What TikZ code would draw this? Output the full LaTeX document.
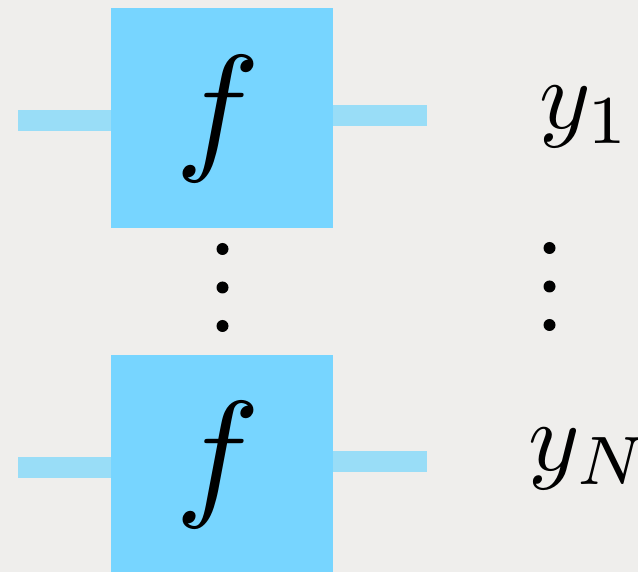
\documentclass[tikz,border=0pt]{standalone}
\usepackage{graphicx}
\usetikzlibrary{calc}
\definecolor{bgc}{HTML}{EFEEEC}
\definecolor{boxc}{HTML}{77D5FF}
\definecolor{wirec}{HTML}{99DDF7}
\tikzset{
  fbox/.style={fill=boxc, draw=none, inner sep=0pt, minimum width=222pt},
  wire/.style={draw=wirec, line width=21pt},
  flabel/.style={inner sep=0pt, anchor=base},
  ylabel/.style={inner sep=0pt, anchor=base west},
  dotc/.style={fill=black, circle, inner sep=0pt, minimum size=12pt}
}
\begin{document}
\begin{tikzpicture}[x=1pt,y=-1pt]
\fill[bgc] (0,0) rectangle (638,572);
\useasboundingbox (0,0) rectangle (638,572);
% boxes
\node[fbox, minimum height=220pt, anchor=north west] (b1) at (111,8) {};
\node[fbox, minimum height=217pt, anchor=north west] (b2) at (111,355) {};
% wires
\coordinate (l1) at (18,120.5);
\coordinate (r1) at (427,115.5);
\coordinate (l2) at (18,467);
\coordinate (r2) at (427,461.7);
\draw[wire] (l1) -- (l1 -| b1.west);
\draw[wire] (b1.east |- r1) -- (r1);
\draw[wire] (l2) -- (l2 -| b2.west);
\draw[wire] (b2.east |- r2) -- (r2);
% labels
\node[flabel] (f1) at (218,154.5) {\scalebox{14.2}{$f$}};
\node[flabel] (f2) at (218,500.5) {\scalebox{14.2}{$f$}};
\node[ylabel] (y1) at (539,129) {\scalebox{9.8}{$y_1$}};
\node[ylabel] (yN) at (528,470) {\scalebox{9.8}{$y_N$}};
% dots
\foreach \i/\yy in {1/249,2/287.5,3/326} {
  \node[dotc] (dl\i) at (222.5,\yy) {};
  \node[dotc] (dr\i) at (549.5,\yy-1) {};
}
\end{tikzpicture}
\end{document}
